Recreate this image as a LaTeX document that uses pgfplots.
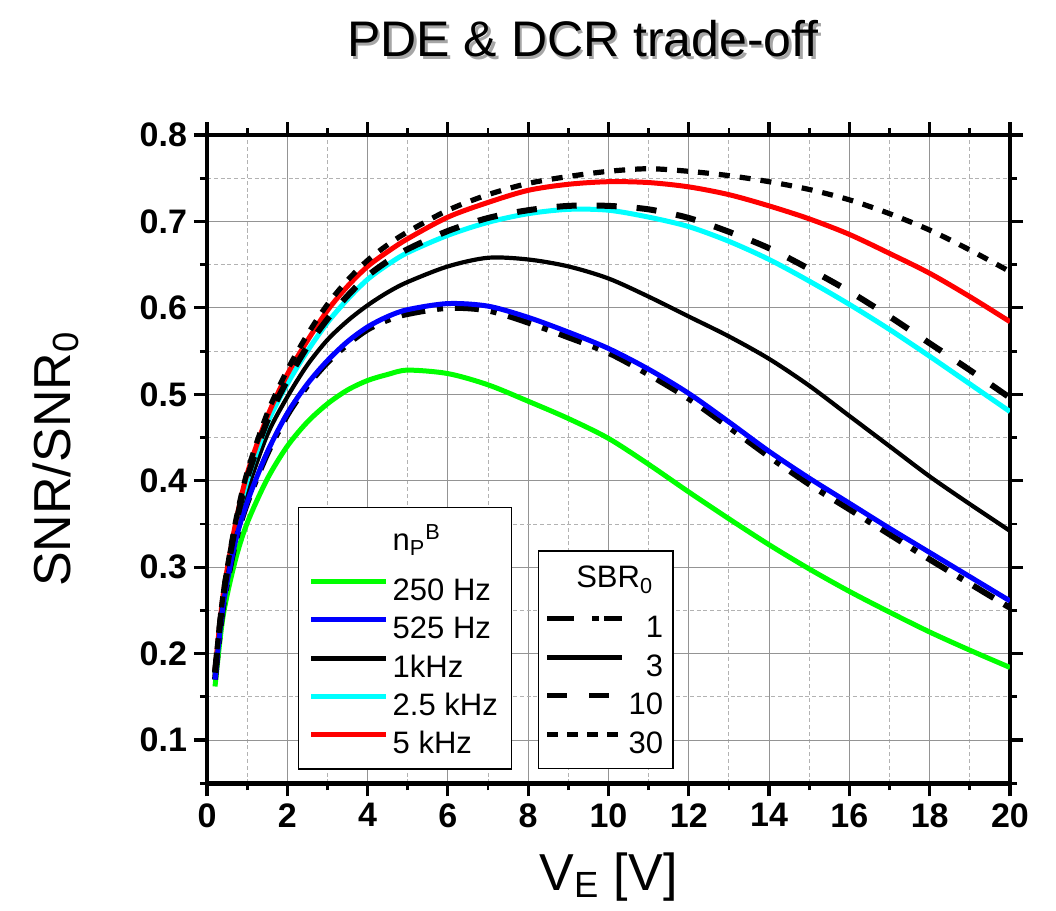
\documentclass[border=0pt]{standalone}
\usepackage{fontspec}
\setmainfont{Liberation Sans}
\usepackage{pgfplots}
\pgfplotsset{compat=1.18}
\usepackage{pgfplotstable}

\pgfplotstableread{
x    green blue  dashdot black cyan  dashed red   dotted
0.2  0.162 0.170 0.170   0.174 0.176 0.178  0.180 0.181
0.4  0.243 0.255 0.254   0.260 0.264 0.265  0.267 0.268
0.7  0.307 0.328 0.327   0.337 0.343 0.345  0.348 0.350
1.0  0.351 0.375 0.374   0.388 0.400 0.403  0.408 0.410
1.5  0.402 0.433 0.431   0.453 0.466 0.469  0.474 0.478
2.0  0.440 0.478 0.476   0.497 0.512 0.516  0.523 0.528
2.5  0.468 0.512 0.510   0.534 0.550 0.555  0.562 0.569
3.0  0.489 0.539 0.537   0.563 0.583 0.587  0.597 0.604
3.5  0.505 0.561 0.558   0.585 0.610 0.614  0.625 0.632
4.0  0.516 0.578 0.575   0.603 0.633 0.637  0.648 0.655
4.5  0.523 0.590 0.586   0.618 0.650 0.654  0.665 0.673
5.0  0.528 0.598 0.593   0.630 0.664 0.668  0.680 0.688
6.0  0.524 0.605 0.600   0.648 0.684 0.689  0.705 0.713
7.0  0.511 0.602 0.597   0.658 0.699 0.704  0.722 0.731
8.0  0.492 0.589 0.583   0.656 0.709 0.713  0.736 0.744
9.0  0.472 0.572 0.566   0.648 0.714 0.718  0.743 0.752
10   0.449 0.553 0.548   0.634 0.713 0.718  0.746 0.758
11   0.419 0.529 0.523   0.613 0.705 0.714  0.745 0.761
12   0.387 0.501 0.495   0.590 0.694 0.704  0.740 0.758
13   0.356 0.468 0.462   0.567 0.677 0.688  0.731 0.753
14   0.326 0.434 0.428   0.541 0.656 0.669  0.718 0.746
15   0.298 0.403 0.396   0.510 0.631 0.645  0.703 0.737
16   0.272 0.374 0.367   0.475 0.604 0.619  0.685 0.725
17   0.248 0.345 0.338   0.440 0.575 0.590  0.663 0.709
18   0.225 0.317 0.309   0.405 0.544 0.559  0.640 0.690
19   0.204 0.289 0.281   0.373 0.512 0.528  0.613 0.667
20   0.184 0.261 0.253   0.342 0.480 0.496  0.584 0.642
}\data

\definecolor{cgreen}{RGB}{0,255,0}
\definecolor{cblue}{RGB}{0,0,255}
\definecolor{ccyan}{RGB}{0,255,255}
\definecolor{cred}{RGB}{255,0,0}

\newcommand{\es}{\rule[-5.6pt]{0pt}{19.2pt}}

\pgfplotsset{
  mylegimg/.style={legend image code/.code={\path (0pt,0pt); \draw[##1] (0pt,5.5pt) -- (37.5pt,5.5pt);}},
  sdashdot/.style={black, line width=3pt, dash pattern=on 12pt off 6pt on 3pt off 6pt},
  sdashed/.style={black, line width=3pt, dash pattern=on 10pt off 10pt},
  sdotted/.style={black, line width=2.6pt, dash pattern=on 5.5pt off 5pt},
  ssolid/.style={black, line width=2.1pt},
}

\begin{document}
\begin{tikzpicture}
\useasboundingbox (-103.5pt,-63.85pt) rectangle (424.5pt,391.65pt);
\node[anchor=base, text=black!35, font=\fontsize{25}{30}\selectfont] at (189.3pt,361.8pt) {PDE \& DCR trade-off};
\node[anchor=base, font=\fontsize{25}{30}\selectfont] at (188pt,363.15pt) {PDE \& DCR trade-off};
\begin{axis}[
  at={(0pt,0pt)}, anchor=south west,
  scale only axis, width=401.5pt, height=324.15pt,
  xmin=0, xmax=20, ymin=0.05, ymax=0.8,
  axis line style={line width=2.2pt},
  xtick={0,2,4,6,8,10,12,14,16,18,20},
  xticklabels={0,2,4,6,8,10,12,14,16,18,20},
  minor xtick={1,3,5,7,9,11,13,15,17,19},
  ytick={0.1,0.2,0.3,0.4,0.5,0.6,0.7,0.8},
  yticklabels={0.1,0.2,0.3,0.4,0.5,0.6,0.7,0.8},
  minor ytick={0.05,0.15,0.25,0.35,0.45,0.55,0.65,0.75},
  tick align=outside, tick pos=both,
  xticklabel pos=lower, yticklabel pos=left,
  major tick length=6.5pt, minor tick length=3.5pt,
  major tick style={line width=1.6pt, black},
  minor tick style={line width=1.4pt, black},
  ticklabel style={font=\fontsize{17}{20}\selectfont\bfseries},
  grid=both,
  major grid style={color=black!42, line width=0.5pt, solid},
  minor grid style={color=black!30, line width=0.45pt, dash pattern=on 2pt off 1.4pt},
  xlabel={V\textsubscript{E} [V]},
  xlabel style={font=\fontsize{26}{30}\selectfont, at={(axis description cs:0.5,-0.1646)}, anchor=base},
  ylabel={SNR/SNR\textsubscript{0}},
  ylabel style={font=\fontsize{26}{30}\selectfont, at={(axis description cs:-0.1706,0.5)}, anchor=base},
]
\addplot[cgreen, line width=2.5pt, smooth, tension=0.5] table[x=x,y=green]{\data};
\addplot[ssolid, smooth, tension=0.5] table[x=x,y=black]{\data};
\addplot[ccyan, line width=2.5pt, smooth, tension=0.5] table[x=x,y=cyan]{\data};
\addplot[cred, line width=2.5pt, smooth, tension=0.5] table[x=x,y=red]{\data};
\addplot[sdashdot, smooth, tension=0.5] table[x=x,y=dashdot]{\data};
\addplot[cblue, line width=2.5pt, smooth, tension=0.5] table[x=x,y=blue]{\data};
\addplot[sdashed, smooth, tension=0.5] table[x=x,y=dashed]{\data};
\addplot[sdotted, smooth, tension=0.5] table[x=x,y=dotted]{\data};
\end{axis}
\begin{axis}[
  at={(0pt,0pt)}, anchor=south west,
  scale only axis, width=401.5pt, height=324.15pt,
  xmin=0, xmax=20, ymin=0.05, ymax=0.8,
  hide axis,
  mylegimg,
  legend style={draw=black, line width=0.6pt, fill=white, inner xsep=5pt, inner ysep=2pt,
    nodes={inner xsep=2pt, inner ysep=0pt, text depth={}},
    font=\fontsize{15.5}{18}\selectfont,
    at={(axis cs:2.27,0.370)}, anchor=north west},
  legend cell align=left,
]
\addlegendimage{empty legend}
\addlegendentry{\rule[-11.4pt]{0pt}{30.9pt}n\textsubscript{P}\textsuperscript{B}}
\addlegendimage{cgreen, line width=2.5pt}
\addlegendentry{\es 250 Hz}
\addlegendimage{cblue, line width=2.5pt}
\addlegendentry{\es 525 Hz}
\addlegendimage{black, line width=2.5pt}
\addlegendentry{\es 1kHz}
\addlegendimage{ccyan, line width=2.5pt}
\addlegendentry{\es 2.5 kHz}
\addlegendimage{cred, line width=2.5pt}
\addlegendentry{\es 5 kHz}
\end{axis}
\begin{axis}[
  at={(0pt,0pt)}, anchor=south west,
  scale only axis, width=401.5pt, height=324.15pt,
  xmin=0, xmax=20, ymin=0.05, ymax=0.8,
  hide axis,
  mylegimg,
  legend style={draw=black, line width=0.6pt, fill=white, inner xsep=3pt, inner ysep=2pt,
    nodes={inner xsep=2pt, inner ysep=0pt, text depth={}},
    font=\fontsize{15.5}{18}\selectfont,
    at={(axis cs:8.244,0.3195)}, anchor=north west},
  legend cell align=right,
]
\addlegendimage{empty legend}
\addlegendentry{\rule[-11.4pt]{0pt}{27.9pt}\makebox[0pt][r]{SBR\textsubscript{0}\hspace*{5pt}}}
\addlegendimage{black, line width=2.5pt, dash pattern=on 13.5pt off 9pt on 3.5pt off 2.5pt}
\addlegendentry{\es 1}
\addlegendimage{black, line width=2.5pt}
\addlegendentry{\es 3}
\addlegendimage{black, line width=2.5pt, dash pattern=on 10pt off 11pt}
\addlegendentry{\es 10}
\addlegendimage{black, line width=2.5pt, dash pattern=on 5.5pt off 4.5pt}
\addlegendentry{\es 30}
\end{axis}
\end{tikzpicture}
\end{document}
